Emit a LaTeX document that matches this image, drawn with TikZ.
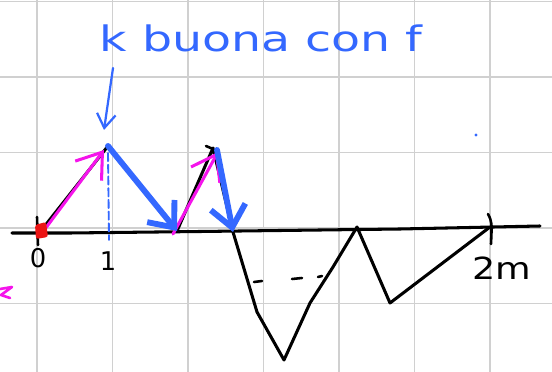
\documentclass[tikz,border=0pt]{standalone}
\usepackage{fontspec}
\usepackage{xcolor}
\definecolor{skblue}{RGB}{52,104,255}
\definecolor{skpink}{RGB}{245,20,235}
\definecolor{skred}{RGB}{235,20,20}
\definecolor{skgrid}{RGB}{208,208,208}
\newfontfamily\handfont{DejaVu Sans}
\usetikzlibrary{arrows.meta}

\begin{document}
\begin{tikzpicture}[x=0.03cm, y=-0.03cm, line cap=round, line join=round]
  \useasboundingbox[fill=white] (0,0) rectangle (552,372);
  % Grid paper
  \foreach \gx in {37,112.5,188,263.5,339,414.5,490}
    \draw[skgrid, line width=1.1pt] (\gx,0) -- (\gx,372);
  \foreach \gy in {1.5,77,152.5,228,303.5}
    \draw[skgrid, line width=1.1pt] (0,\gy) -- (552,\gy);

  % Title
  \node[font=\handfont\fontsize{30}{30}\selectfont, skblue, xscale=1.35] (title) at (261,38) {k buona con f};
  \coordinate (tail) at (113,68);
  \coordinate (tip) at (104,130);
  \draw[skblue, line width=1.9pt, -{Straight Barb[length=12pt,width=16pt]}] (tail) -- (tip);

  % Axis and ticks
  \draw[black, line width=2.6pt] (12,233) -- (70,233) -- (200,231.5) -- (400,229) -- (540,226);
  \draw[black, line width=2.2pt] (37,217) -- (38,245);
  \draw[black, line width=2.2pt] (488,214) .. controls (492,222) .. (491,244);
  \draw[skblue, line width=1.6pt, dash pattern=on 7pt off 3pt] (108,153) -- (109,240);
  \node[font=\handfont\fontsize{22}{22}\selectfont] (zero) at (38,258) {0};
  \node[font=\handfont\fontsize{22}{22}\selectfont] (one) at (108,261) {1};
  \node[font=\handfont\fontsize{26}{26}\selectfont, xscale=1.2] (twom) at (502,268) {2m};

  % Zigzag path
  \coordinate (o) at (40,232);
  \coordinate (p1) at (108,146);
  \coordinate (v1) at (177,231);
  \coordinate (p2) at (213,148);
  \coordinate (v2) at (233,232);
  \coordinate (d1) at (257,312);
  \coordinate (b1) at (284,360);
  \coordinate (m1) at (310,303);
  \coordinate (m2) at (333,267);
  \coordinate (p3) at (357,227);
  \coordinate (v3) at (390,303);
  \coordinate (e) at (490,227);
  \draw[black, line width=2.6pt] (o) -- (p1) -- (v1) -- (p2) -- (v2) -- (d1) -- (b1) -- (m1) -- (m2) -- (p3) -- (v3) -- (e);
  \draw[black, line width=2.2pt] (206,146) -- (213,149);
  \draw[black, line width=2.2pt] (254,282) -- (262,281);
  \draw[black, line width=2.2pt] (292,279) -- (302,278);
  \draw[black, line width=2.2pt] (318,277) -- (322,276);

  % Pink arrows up
  \draw[skpink, line width=2.6pt, -{Straight Barb[length=20pt,width=28pt]}] (45,229) -- (104,150);
  \draw[skpink, line width=2.6pt, -{Straight Barb[length=20pt,width=28pt]}] (173,234) -- (218,152);

  % Blue arrows down
  \draw[skblue, line width=5pt, -{Straight Barb[length=18pt,width=30pt]}] (p1) -- (v1);
  \draw[skblue, line width=5pt, -{Straight Barb[length=18pt,width=30pt]}] (217,150) -- (v2);

  % Marks
  \fill[skred, rounded corners=2pt] (35,225) -- (46,222) -- (48,237) -- (36,239) -- cycle;
  \draw[skpink, line width=2.2pt] (0,289) -- (12,287) -- (1,295) -- (10,298);
  \fill[skblue] (476,135) circle (1.6);
\end{tikzpicture}
\end{document}
